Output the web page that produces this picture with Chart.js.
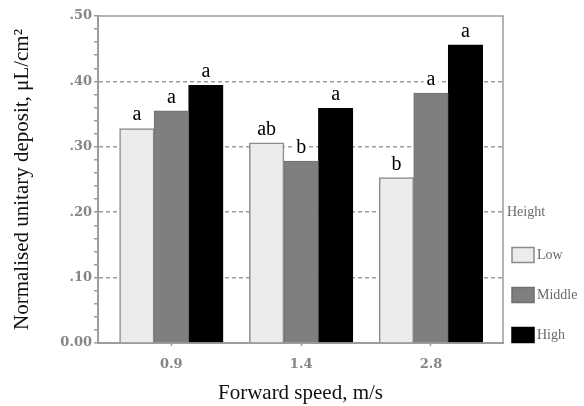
<!DOCTYPE html>
<html>
<head>
<meta charset="utf-8">
<script src="https://cdn.jsdelivr.net/npm/chart.js@4/dist/chart.umd.min.js"></script>
<style>
  html, body { margin: 0; padding: 0; background: #fff; }
</style>
</head>
<body>
<canvas id="myChart" width="584" height="406"></canvas>
<script>
// values
var categories = ['0.9', '1.4', '2.8'];
var seriesNames = ['Low', 'Middle', 'High'];
var lowValues = [0.328, 0.306, 0.253];
var middleValues = [0.355, 0.278, 0.382];
var highValues = [0.394, 0.359, 0.456];
var lowLetters = ['a', 'ab', 'b'];
var middleLetters = ['a', 'b', 'a'];
var highLetters = ['a', 'a', 'a'];
var yTickLabels = { 0: '0.00', 10: '.10', 20: '.20', 30: '.30', 40: '.40', 50: '.50' };

var GRID = '#9c9c9c';
var TICKFONT = { family: 'DejaVu Serif', size: 13, weight: 'bold' };

function points(values) {
    return values.map(function (v, i) { return { x: i, y: v }; });
}

// top and right sides of the plot frame
var framePlugin = {
    id: 'frame',
    beforeDatasetsDraw: function (chart) {
        var a = chart.chartArea, ctx = chart.ctx;
        ctx.save();
        ctx.strokeStyle = GRID;
        ctx.lineWidth = 1.5;
        ctx.beginPath();
        ctx.moveTo(a.left, a.top);
        ctx.lineTo(a.right, a.top);
        ctx.lineTo(a.right, a.bottom);
        ctx.stroke();
        ctx.restore();
    }
};

// significance letters above every bar
var lettersPlugin = {
    id: 'letters',
    afterDatasetsDraw: function (chart) {
        var ctx = chart.ctx;
        ctx.save();
        ctx.font = '20px "Liberation Serif"';
        ctx.textAlign = 'center';
        ctx.textBaseline = 'alphabetic';
        chart.data.datasets.forEach(function (ds, di) {
            chart.getDatasetMeta(di).data.forEach(function (bar, i) {
                var txt = ds.letters[i];
                var w = ctx.measureText(txt).width + 6;
                ctx.fillStyle = '#fff';
                ctx.fillRect(bar.x - w / 2, bar.y - 25, w, 19);
                ctx.fillStyle = '#000';
                ctx.fillText(txt, bar.x, bar.y - 8);
            });
        });
        ctx.restore();
    }
};

// legend at the right, outside the frame
var legendPlugin = {
    id: 'sideLegend',
    afterDraw: function (chart) {
        var ctx = chart.ctx;
        var x = chart.chartArea.right + 9;
        var top = 212;
        ctx.save();
        ctx.textBaseline = 'middle';
        ctx.font = '14px "Liberation Serif"';
        ctx.fillStyle = '#6a6a6a';
        ctx.fillText('Height', chart.chartArea.right + 4, top);
        chart.data.datasets.forEach(function (ds, i) {
            var cy = top + 43 + i * 40;
            ctx.fillStyle = ds.backgroundColor;
            ctx.fillRect(x, cy - 7.5, 22, 15);
            ctx.strokeStyle = ds.borderColor;
            ctx.lineWidth = 1.5;
            ctx.strokeRect(x, cy - 7.5, 22, 15);
            ctx.fillStyle = '#6a6a6a';
            ctx.fillText(ds.label, x + 25, cy);
        });
        ctx.restore();
    }
};

var ctx = document.getElementById('myChart').getContext('2d');
var chart = new Chart(ctx, {
    type: 'bar',
    data: {
        datasets: [{
            label: seriesNames[0],
            data: points(lowValues),
            letters: lowLetters,
            backgroundColor: '#ececec',
            borderColor: '#8a8a8a',
            borderWidth: 1.5
        }, {
            label: seriesNames[1],
            data: points(middleValues),
            letters: middleLetters,
            backgroundColor: '#7f7f7f',
            borderColor: '#6e6e6e',
            borderWidth: 1
        }, {
            label: seriesNames[2],
            data: points(highValues),
            letters: highLetters,
            backgroundColor: '#000000',
            borderColor: '#000000',
            borderWidth: 1
        }]
    },
    options: {
        responsive: false,
        animation: false,
        devicePixelRatio: 1,
        barThickness: 34.5,
        layout: { padding: { left: 0, right: 81, top: 16, bottom: 0 } },
        plugins: {
            legend: { display: false },
            tooltip: { enabled: false }
        },
        scales: {
            x: {
                type: 'linear',
                min: -0.565,
                max: 2.555,
                offset: false,
                afterBuildTicks: function (scale) {
                    scale.ticks = categories.map(function (c, i) { return { value: i }; });
                },
                afterFit: function (scale) { scale.height = 63; },
                ticks: {
                    autoSkip: false,
                    maxRotation: 0,
                    padding: 11,
                    color: '#858585',
                    font: TICKFONT,
                    callback: function (value) { return categories[value]; }
                },
                grid: { offset: false, drawOnChartArea: false, tickLength: 3, tickColor: GRID, tickWidth: 1.5 },
                border: { color: GRID, width: 2 },
                title: {
                    display: true,
                    text: 'Forward speed, m/s',
                    color: '#111',
                    font: { family: 'Liberation Serif', size: 21 },
                    padding: { top: 0, bottom: 0 }
                }
            },
            y: {
                min: 0,
                max: 0.5,
                afterFit: function (scale) { scale.width = 98; },
                ticks: {
                    stepSize: 0.02,
                    autoSkip: false,
                    padding: 2,
                    color: '#858585',
                    font: TICKFONT,
                    callback: function (value) {
                        var k = Math.round(value * 100);
                        return k % 10 === 0 ? yTickLabels[k] : '';
                    }
                },
                grid: {
                    color: function (c) {
                        var k = Math.round(c.tick.value * 100);
                        return (k % 10 === 0 && k > 0 && k < 50) ? GRID : 'rgba(0,0,0,0)';
                    },
                    lineWidth: 1.5,
                    tickColor: GRID,
                    tickLength: 4,
                    tickWidth: 1.5
                },
                border: { color: GRID, width: 2, dash: [4, 3] },
                title: {
                    display: true,
                    text: 'Normalised unitary deposit, μL/cm²',
                    color: '#111',
                    font: { family: 'Liberation Serif', size: 21 },
                    padding: { top: 10, bottom: 0 }
                }
            }
        }
    },
    plugins: [framePlugin, lettersPlugin, legendPlugin]
});
</script>
</body>
</html>
